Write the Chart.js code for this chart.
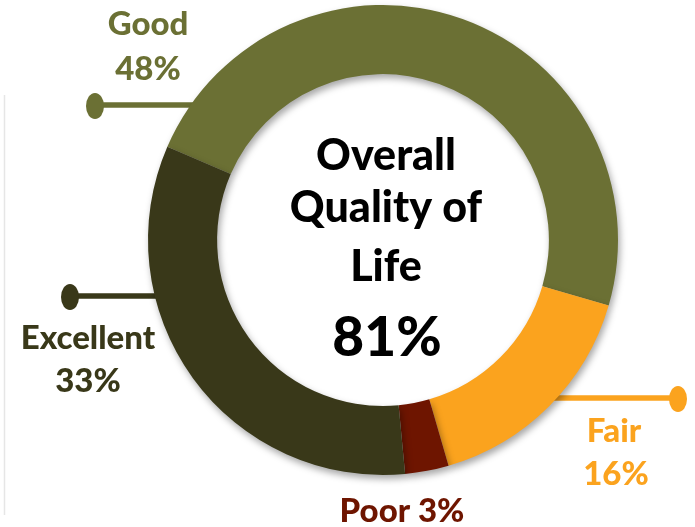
<!DOCTYPE html>
<html>
<head>
<meta charset="utf-8">
<script src="https://cdn.jsdelivr.net/npm/chart.js@4"></script>
<style>
  html, body { margin: 0; padding: 0; background: #fff; }
  #wrap { width: 695px; height: 527px; position: relative; }
</style>
</head>
<body>
<div id="wrap"><canvas id="chart" width="695" height="527"></canvas></div>
<script>
// data
const categories = ['Good', 'Fair', 'Poor', 'Excellent'];
const shares = [48, 16, 3, 33];
const sliceColors = ['#6b7034', '#fba31e', '#6e1500', '#393819'];
const centerLines = ['Overall', 'Quality of', 'Life'];
const centerValue = '81%';

const FONT = 'Lato, "Open Sans", sans-serif';

// leader lines with dot ends, drawn under the ring
const leaderPlugin = {
  id: 'leaders',
  beforeDatasetsDraw(chart) {
    const ctx = chart.ctx;
    const lines = [
      { i: 0, x1: 95, x2: 220, y: 105, dot: 95 },
      { i: 3, x1: 70, x2: 180, y: 296, dot: 70 },
      { i: 1, x1: 540, x2: 678, y: 398, dot: 678 }
    ];
    ctx.save();
    lines.forEach(l => {
      ctx.strokeStyle = sliceColors[l.i];
      ctx.fillStyle = sliceColors[l.i];
      ctx.lineWidth = 5.5;
      ctx.beginPath();
      ctx.moveTo(l.x1, l.y);
      ctx.lineTo(l.x2, l.y);
      ctx.stroke();
      ctx.beginPath();
      ctx.ellipse(l.dot, l.y + 1, 9, 13, 0, 0, Math.PI * 2);
      ctx.fill();
    });
    // faint rule at the left edge
    ctx.strokeStyle = '#e6e6e6';
    ctx.lineWidth = 1.5;
    ctx.beginPath();
    ctx.moveTo(4.5, 95);
    ctx.lineTo(4.5, 515);
    ctx.stroke();
    ctx.restore();
  }
};

// soft drop shadow on the ring
const shadowPlugin = {
  id: 'ringShadow',
  beforeDatasetDraw(chart) {
    const ctx = chart.ctx;
    ctx.save();
    ctx.shadowColor = 'rgba(0,0,0,0.35)';
    ctx.shadowBlur = 7;
    ctx.shadowOffsetX = 2;
    ctx.shadowOffsetY = 4;
  },
  afterDatasetDraw(chart) {
    chart.ctx.restore();
  }
};

const textPlugin = {
  id: 'texts',
  afterDraw(chart) {
    const ctx = chart.ctx;
    ctx.save();
    ctx.textAlign = 'center';
    ctx.textBaseline = 'alphabetic';

    // center block
    ctx.fillStyle = '#000';
    ctx.font = `900 43px ${FONT}`;
    const ys = [170, 222, 281];
    centerLines.forEach((t, k) => ctx.fillText(t, 386, ys[k]));
    ctx.font = `900 55px ${FONT}`;
    ctx.fillText(centerValue, 387, 356);

    // slice labels
    const pct = i => `${shares[i]}%`;
    ctx.font = `900 33px ${FONT}`;
    ctx.fillStyle = sliceColors[0];
    ctx.fillText(categories[0], 148, 35);
    ctx.fillText(pct(0), 148, 80);
    ctx.fillStyle = sliceColors[3];
    ctx.fillText(categories[3], 88, 349);
    ctx.fillText(pct(3), 88, 392);
    ctx.fillStyle = sliceColors[1];
    ctx.fillText(categories[1], 614, 442);
    ctx.fillText(pct(1), 616, 485);
    ctx.fillStyle = sliceColors[2];
    ctx.fillText(`${categories[2]} ${pct(2)}`, 402, 522);
    ctx.restore();
  }
};

new Chart(document.getElementById('chart'), {
  type: 'doughnut',
  data: {
    labels: categories,
    datasets: [{
      data: shares,
      backgroundColor: sliceColors,
      borderWidth: 0
    }]
  },
  options: {
    responsive: false,
    animation: false,
    rotation: -66.6,
    cutout: '70.6%',
    layout: { padding: { top: 5, bottom: 52, left: 148, right: 77 } },
    plugins: {
      legend: { display: false },
      tooltip: { enabled: false }
    }
  },
  plugins: [leaderPlugin, shadowPlugin, textPlugin]
});
</script>
</body>
</html>
